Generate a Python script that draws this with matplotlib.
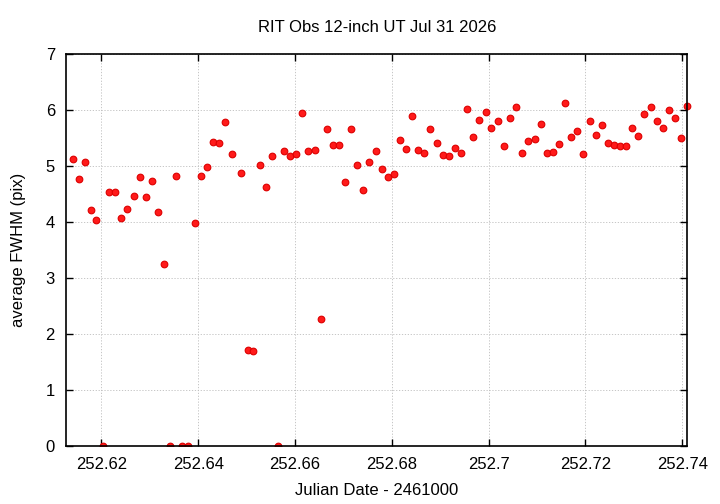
import matplotlib
matplotlib.use("Agg")
import matplotlib.pyplot as plt
import numpy as np

jd = [252.6141, 252.6153, 252.6166, 252.6178, 252.6190, 252.6204, 252.6216, 252.6229,
      252.6241, 252.6254, 252.6267, 252.6279, 252.6292, 252.6305, 252.6317, 252.6330,
      252.6342, 252.6355, 252.6367, 252.6380, 252.6393, 252.6405, 252.6418, 252.6430,
      252.6443, 252.6455, 252.6469, 252.6489, 252.6502, 252.6514, 252.6527, 252.6540,
      252.6552, 252.6564, 252.6577, 252.6590, 252.6603, 252.6615, 252.6628, 252.6641,
      252.6653, 252.6666, 252.6678, 252.6691, 252.6703, 252.6716, 252.6729, 252.6741,
      252.6754, 252.6767, 252.6779, 252.6792, 252.6805, 252.6817, 252.6829, 252.6842,
      252.6855, 252.6867, 252.6880, 252.6893, 252.6905, 252.6918, 252.6931, 252.6943,
      252.6956, 252.6968, 252.6981, 252.6994, 252.7006, 252.7019, 252.7032, 252.7044,
      252.7057, 252.7070, 252.7082, 252.7095, 252.7108, 252.7120, 252.7133, 252.7145,
      252.7158, 252.7171, 252.7183, 252.7196, 252.7209, 252.7221, 252.7234, 252.7247,
      252.7259, 252.7271, 252.7284, 252.7297, 252.7309, 252.7322, 252.7335, 252.7347,
      252.7360, 252.7373, 252.7385, 252.7398, 252.7410]

fwhm = [5.12, 4.76, 5.08, 4.22, 4.03, 0.0, 4.53, 4.54,
        4.08, 4.24, 4.46, 4.80, 4.45, 4.73, 4.18, 3.25,
        0.0, 4.82, 0.0, 0.0, 3.99, 4.82, 4.98, 5.43,
        5.41, 5.78, 5.22, 4.87, 1.72, 1.70, 5.02, 4.62,
        5.18, 0.0, 5.26, 5.17, 5.21, 5.94, 5.27, 5.29,
        2.27, 5.66, 5.38, 5.38, 4.71, 5.66, 5.02, 4.57,
        5.08, 5.26, 4.95, 4.80, 4.86, 5.47, 5.30, 5.90,
        5.29, 5.24, 5.66, 5.41, 5.20, 5.17, 5.33, 5.24,
        6.02, 5.52, 5.82, 5.96, 5.67, 5.80, 5.36, 5.86,
        6.06, 5.24, 5.45, 5.48, 5.75, 5.24, 5.25, 5.40,
        6.12, 5.51, 5.63, 5.21, 5.81, 5.56, 5.73, 5.41,
        5.38, 5.36, 5.35, 5.67, 5.54, 5.93, 6.06, 5.81,
        5.68, 6.00, 5.86, 5.50, 6.07]

xticks = [252.62, 252.64, 252.66, 252.68, 252.7, 252.72, 252.74]
xticklabels = ["252.62", "252.64", "252.66", "252.68", "252.7", "252.72", "252.74"]
yticks = [0, 1, 2, 3, 4, 5, 6, 7]

plt.rcParams['font.family'] = ['Liberation Sans', 'DejaVu Sans']

fig = plt.figure(figsize=(7.2, 5.04), dpi=100)
ax = fig.add_axes([66/720, 58/504, 621/720, 392/504])

x = np.array(jd)
y = np.array(fwhm)
pos = y > 0
style = dict(linestyle='none', marker='o', markersize=4.8,
             markerfacecolor='#ff1a1a', markeredgecolor='#dd0000', markeredgewidth=0.8, zorder=3)
ax.plot(x[pos], y[pos], clip_on=False, **style)
ax.plot(x[~pos], y[~pos], clip_on=True, **style)

ax.set_xlim(252.6127, 252.741)
ax.set_ylim(0, 7)
ax.set_xticks(xticks)
ax.set_xticklabels(xticklabels)
ax.set_yticks(yticks)
ax.grid(True, color='#bdbdbd', linestyle=(0, (1.5, 2)), linewidth=0.6)
ax.tick_params(direction='in', top=True, right=True, labelsize=12, length=5, width=1, pad=8)
for s in ax.spines.values():
    s.set_linewidth(1.2)
    s.set_zorder(4)

ax.set_xlabel("Julian Date - 2461000", fontsize=12, labelpad=8)
ax.set_ylabel("average FWHM (pix)", fontsize=12, labelpad=14)
fig.text(377/720, 1 - 28/504, "RIT Obs 12-inch UT Jul 31 2026", ha='center', va='center', fontsize=12)

fig.savefig("out.png", dpi=100)
